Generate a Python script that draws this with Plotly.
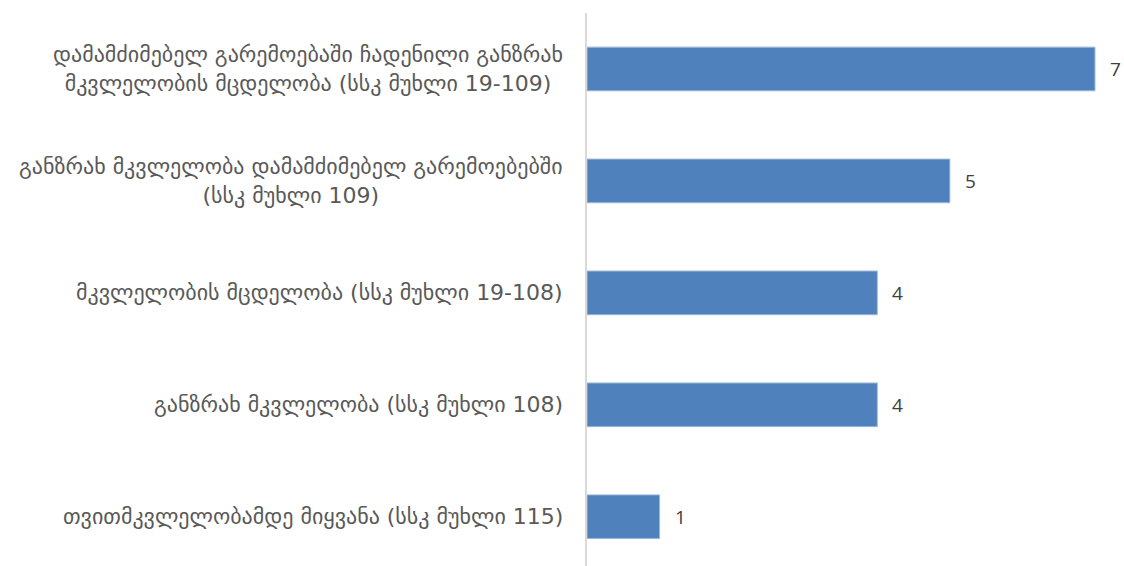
import plotly.graph_objects as go

categories = [
    "დამამძიმებელ გარემოებაში ჩადენილი განზრახ<br>მკვლელობის მცდელობა (სსკ მუხლი 19-109)",
    "განზრახ მკვლელობა დამამძიმებელ გარემოებებში<br>(სსკ მუხლი 109)",
    "მკვლელობის მცდელობა (სსკ მუხლი 19-108)",
    "განზრახ მკვლელობა (სსკ მუხლი 108)",
    "თვითმკვლელობამდე მიყვანა (სსკ მუხლი 115)",
]
values = [7, 5, 4, 4, 1]

fig = go.Figure()
fig.add_trace(go.Bar(
    y=categories, x=values, orientation="h",
    marker=dict(color="#4F81BD", line=dict(color="#9bb7dc", width=1)),
    width=0.39,
))

for c in categories:
    fig.add_annotation(
        x=0, xref="paper", y=c, yref="y", xanchor="right", xshift=-22,
        text=c, showarrow=False, align="center",
        font=dict(family="DejaVu Sans", size=22, color="#595959"),
    )

for c, v in zip(categories, values):
    fig.add_annotation(
        x=v, xref="x", y=c, yref="y", xanchor="left", xshift=13,
        text=str(v), showarrow=False,
        font=dict(family="Open Sans", size=19, color="#404040"),
    )

fig.update_layout(
    width=1124, height=566,
    margin=dict(l=587, r=0, t=13, b=0),
    paper_bgcolor="white", plot_bgcolor="white",
    showlegend=False,
    xaxis=dict(range=[0, 7.4], showgrid=False, zeroline=False,
               showticklabels=False, showline=False),
    yaxis=dict(categoryorder="array", categoryarray=categories,
               range=[4.44, -0.5], showticklabels=False, showgrid=False,
               showline=True, linecolor="#d9d9d9", linewidth=2, zeroline=False),
)
fig.write_html(
    "out.html",
    config={"displayModeBar": False},
    post_script="document.body.style.margin='0';document.body.style.overflow='hidden';",
)
